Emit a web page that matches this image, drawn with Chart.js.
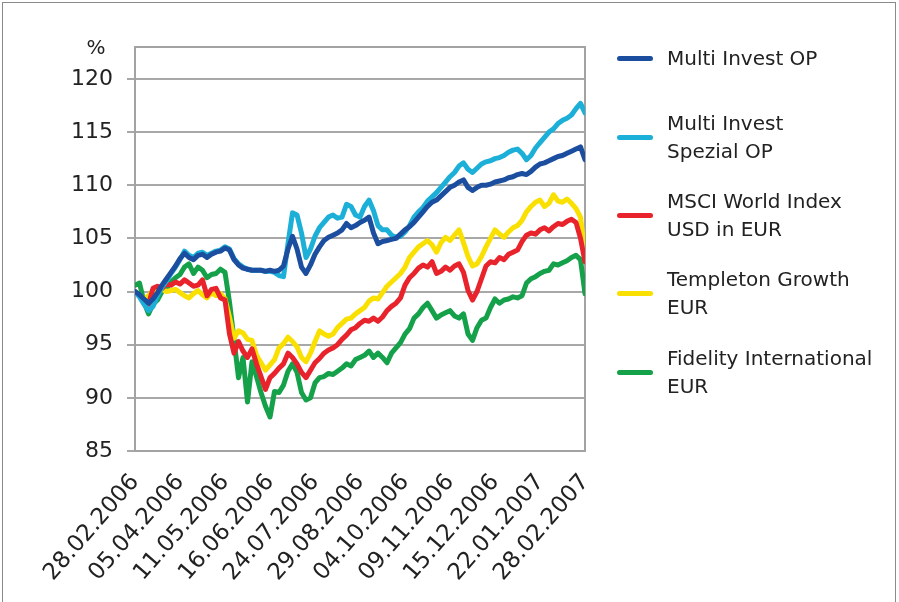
<!DOCTYPE html>
<html><head><meta charset="utf-8">
<script src="https://cdn.jsdelivr.net/npm/chart.js@4.4.1/dist/chart.umd.min.js"></script>
<style>
html,body{margin:0;padding:0;background:#fff;}
#wrap{position:relative;width:899px;height:602px;overflow:hidden;background:#fff;}
#frame{position:absolute;left:2px;top:2px;width:894px;height:602px;border:1px solid #8a8a8a;border-bottom:none;box-sizing:border-box;pointer-events:none}
canvas{position:absolute;left:0;top:0}
#legend{position:absolute;left:0;top:0;width:899px;height:602px;font-family:"DejaVu Sans";font-size:20px;color:#222;pointer-events:none}
.item{position:absolute;left:617px;height:0}
.swatch{position:absolute;left:0;top:-2.5px;width:36px;height:5px;border-radius:2.5px}
.txt{position:absolute;left:50px;top:0;transform:translateY(-50%);line-height:28px;white-space:nowrap}
</style>
</head><body>
<div id="wrap">
<canvas id="c" width="899" height="602"></canvas>
<div id="legend"></div>
<div id="frame"></div>
</div>
<script>
// Tick labels (dates) along the x axis, one every 10 points
const tickLabels = ["28.02.2006","05.04.2006","11.05.2006","16.06.2006","24.07.2006","29.08.2006","04.10.2006","09.11.2006","15.12.2006","22.01.2007","28.02.2007"];
const pointsPerInterval = 10;

const seriesNames = [["Multi Invest OP"],["Multi Invest","Spezial OP"],["MSCI World Index","USD in EUR"],["Templeton Growth","EUR"],["Fidelity International","EUR"]];
const seriesColors = ["#1C4EA0","#1CAFD8","#E8232B","#FAE000","#15A04A"];

const multiInvestOP = [100.0,99.7,99.3,98.9,99.3,99.9,100.6,101.2,101.8,102.4,103.1,103.6,103.2,103.0,103.4,103.5,103.2,103.5,103.7,103.8,
104.1,103.9,103.0,102.5,102.2,102.1,102.0,102.0,102.0,101.9,102.0,101.9,102.0,102.4,104.0,105.2,104.0,102.3,101.7,102.5,
103.5,104.2,104.8,105.1,105.3,105.5,105.8,106.4,106.0,106.2,106.5,106.7,107.0,105.5,104.5,104.7,104.8,104.9,105.0,105.4,
105.8,106.1,106.5,107.0,107.5,108.0,108.4,108.6,109.0,109.4,109.8,110.0,110.3,110.5,109.8,109.5,109.8,110.0,110.0,110.1,
110.3,110.4,110.5,110.7,110.8,111.0,111.1,111.0,111.3,111.7,112.0,112.1,112.3,112.5,112.7,112.8,113.0,113.2,113.4,113.6,112.4];

const multiInvestSpezialOP = [100.0,99.5,98.8,98.2,98.6,99.6,100.4,101.0,101.7,102.3,103.0,103.8,103.4,103.2,103.6,103.7,103.4,103.6,103.8,103.9,
104.2,104.0,103.1,102.6,102.3,102.1,102.0,102.0,102.0,101.9,101.9,101.8,101.5,101.4,104.5,107.4,107.2,105.5,103.2,104.0,
105.2,106.0,106.5,107.0,107.2,106.9,107.0,108.2,108.0,107.2,107.0,108.0,108.6,107.6,106.2,105.8,105.8,105.3,105.1,105.2,
105.6,106.2,107.0,107.5,107.9,108.5,108.9,109.3,109.8,110.3,110.8,111.2,111.8,112.1,111.5,111.2,111.6,112.0,112.2,112.3,
112.5,112.6,112.8,113.1,113.3,113.4,113.0,112.4,112.8,113.5,114.0,114.5,115.0,115.3,115.8,116.1,116.3,116.6,117.2,117.7,116.8];

const msciWorld = [100.0,99.6,98.9,98.8,100.3,100.5,100.3,100.7,100.6,100.9,100.7,101.1,100.8,100.5,100.6,101.1,99.6,100.2,100.3,99.4,
99.2,96.0,94.2,95.3,94.4,93.8,94.6,93.2,92.0,90.8,91.9,92.3,92.8,93.2,94.2,93.8,93.2,92.4,91.9,92.6,
93.3,93.7,94.2,94.5,94.7,95.0,95.5,95.9,96.4,96.6,97.0,97.3,97.2,97.5,97.2,97.6,98.2,98.6,98.9,99.4,
100.6,101.3,101.7,102.2,102.5,102.3,102.8,101.7,101.9,102.3,102.0,102.4,102.6,101.8,100.1,99.2,100.0,101.2,102.4,102.8,
102.7,103.2,103.0,103.5,103.7,103.9,104.7,105.3,105.5,105.4,105.8,106.0,105.7,106.1,106.4,106.3,106.6,106.8,106.5,105.0,102.8];

const templetonGrowth = [100.0,99.6,99.3,99.6,100.1,100.0,100.2,100.0,100.1,100.2,99.9,99.6,99.4,99.8,100.1,99.7,99.4,99.9,99.6,99.8,
99.3,97.6,95.6,96.3,96.1,95.5,95.4,94.0,93.3,92.6,93.1,93.6,94.7,95.1,95.7,95.3,94.8,93.8,93.4,94.2,
95.3,96.3,96.0,95.8,96.0,96.6,97.0,97.4,97.5,97.9,98.2,98.5,99.1,99.4,99.3,99.9,100.5,100.9,101.3,101.7,
102.3,103.2,103.7,104.2,104.5,104.8,104.4,103.7,104.6,105.1,104.8,105.3,105.8,104.6,103.3,102.4,102.6,103.3,104.2,105.0,
105.8,105.4,105.1,105.6,106.0,106.2,106.7,107.5,108.0,108.4,108.6,108.0,108.3,109.1,108.5,108.4,108.7,108.3,107.8,107.0,103.6];

const fidelityInternational = [100.6,100.8,99.0,97.9,98.8,99.2,100.0,100.3,100.9,101.3,101.6,102.3,102.6,101.7,102.3,102.0,101.3,101.6,101.7,102.1,
101.8,99.0,95.5,91.9,93.8,89.6,93.4,92.0,90.5,89.2,88.2,90.6,90.5,91.2,92.5,93.2,92.4,90.5,89.8,90.0,
91.4,91.9,92.0,92.3,92.2,92.5,92.8,93.2,93.0,93.6,93.8,94.0,94.4,93.8,94.2,93.8,93.3,94.2,94.7,95.2,
96.0,96.5,97.5,97.9,98.5,98.9,98.2,97.5,97.8,98.0,98.2,97.7,97.5,97.9,96.0,95.4,96.6,97.3,97.5,98.5,
99.3,98.9,99.2,99.3,99.5,99.4,99.6,100.8,101.2,101.4,101.7,101.9,102.0,102.6,102.5,102.7,102.9,103.2,103.4,103.0,99.8];

const yTickValues = [85,90,95,100,105,110,115,120];

const allSeries = [multiInvestOP, multiInvestSpezialOP, msciWorld, templetonGrowth, fidelityInternational];

const datasets = allSeries.map((vals, k) => ({
  label: seriesNames[k].join(' '),
  data: vals.map((v, i) => ({x: i, y: v})),
  borderColor: seriesColors[k],
  backgroundColor: seriesColors[k],
  borderWidth: 5,
  pointRadius: 0,
  tension: 0,
  borderJoinStyle: 'round',
  borderCapStyle: 'round',
  fill: false
}));

const framePlugin = {
  id: 'frame',
  beforeDatasetsDraw(chart) {
    const {ctx, chartArea: a} = chart;
    ctx.save();
    ctx.strokeStyle = '#a3a3a3';
    ctx.lineWidth = 2;
    ctx.strokeRect(a.left, a.top, a.right - a.left, a.bottom - a.top);
    ctx.restore();
  },
  afterDraw(chart) {
    const {ctx, chartArea: a} = chart;
    ctx.save();
    ctx.fillStyle = '#222';
    ctx.font = '20px "DejaVu Sans"';
    ctx.textAlign = 'center';
    ctx.textBaseline = 'middle';
    ctx.fillText('%', a.left - 39, a.top + 2);
    ctx.restore();
  }
};

const nIntervals = tickLabels.length - 1;
new Chart(document.getElementById('c'), {
  type: 'line',
  data: {datasets},
  options: {
    responsive: false,
    animation: false,
    layout: {padding: {left: 0, right: 314, top: 47, bottom: 0}},
    plugins: {legend: {display: false}, tooltip: {enabled: false}},
    scales: {
      x: {
        type: 'linear',
        min: 0, max: nIntervals * pointsPerInterval,
        afterBuildTicks: s => { s.ticks = tickLabels.map((t, j) => ({value: j * pointsPerInterval})); },
        ticks: {
          autoSkip: false, maxRotation: 49, minRotation: 49,
          callback: v => tickLabels[Math.round(v / pointsPerInterval)],
          font: {family: 'DejaVu Sans', size: 23}, color: '#222', padding: 10
        },
        grid: {display: false},
        border: {display: true, color: '#a3a3a3', width: 2},
        afterFit: s => { s.height = 151; }
      },
      y: {
        min: 85, max: 123,
        afterBuildTicks: s => { s.ticks = yTickValues.map(v => ({value: v})); },
        ticks: {font: {family: 'DejaVu Sans', size: 22}, color: '#222', padding: 14},
        grid: {color: '#a8a8a8', lineWidth: 2, tickLength: 8, drawTicks: true},
        border: {display: true, color: '#a3a3a3', width: 2},
        afterFit: s => { s.width = 135; }
      }
    }
  },
  plugins: [framePlugin]
});

// HTML legend
const legendY = [58, 137, 215, 293, 372];
const lg = document.getElementById('legend');
seriesNames.forEach((lines, k) => {
  const it = document.createElement('div');
  it.className = 'item';
  it.style.top = legendY[k] + 'px';
  const sw = document.createElement('div');
  sw.className = 'swatch';
  sw.style.background = seriesColors[k];
  const tx = document.createElement('div');
  tx.className = 'txt';
  tx.innerHTML = lines.join('<br>');
  it.appendChild(sw); it.appendChild(tx);
  lg.appendChild(it);
});
</script>
</body></html>
